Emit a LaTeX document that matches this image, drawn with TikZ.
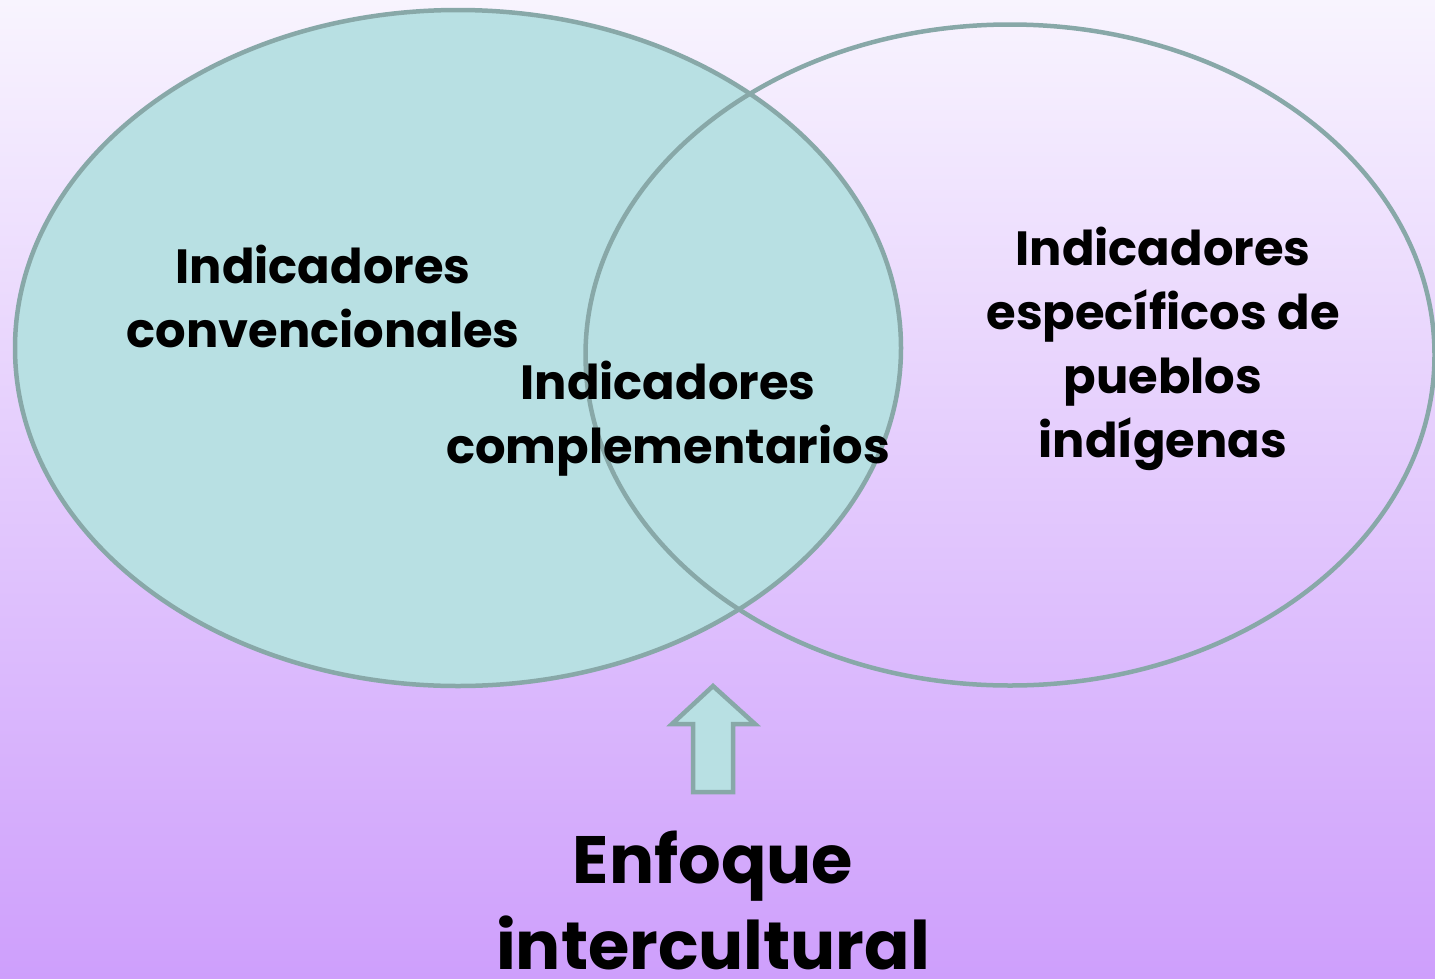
\documentclass[tikz,border=0pt]{standalone}
\usepackage{fontspec}
\setmainfont{Poppins}
\usepackage{tikz}
\usetikzlibrary{shapes.geometric,positioning}

\definecolor{fondoArriba}{HTML}{F8F4FE}
\definecolor{fondoAbajo}{HTML}{CE9FFC}
\definecolor{turquesa}{HTML}{B8E0E3}
\definecolor{borde}{HTML}{88A8A8}

\tikzset{
  conjunto/.style={ellipse, draw=borde, line width=4.5pt, inner sep=0pt},
  rotulo/.style={align=center, font=\fontsize{48}{64}\selectfont\bfseries, inner sep=0pt},
  rotulogrande/.style={align=center, font=\fontsize{67}{86}\selectfont\bfseries, inner sep=0pt}
}

\begin{document}
\begin{tikzpicture}[x=1pt,y=-1pt]
    % fondo degradado
    \shade[top color=fondoArriba, bottom color=fondoAbajo] (0,0) rectangle (1435,978);
    \useasboundingbox (0,0) rectangle (1435,978);
    % conjuntos
    \node[conjunto, fill=turquesa, minimum width=886pt, minimum height=676pt] (izq) at (458,348) {};
    \node[conjunto, minimum width=849pt, minimum height=661pt] (der) at (1010,355) {};
    % textos
    \node[rotulo] (conv) at (323,296) {Indicadores\\convencionales};
    \node[rotulo] (compl) at (668,419) {Indicadores\\complementarios};
    \node[rotulo] (espec) at (1163,349) {Indicadores\\específicos de\\pueblos\\indígenas};
    % flecha
    \draw[borde, fill=turquesa, line width=4.5pt, line join=miter]
        (693,792) -- (693,724) -- (672,724) -- (713,686) -- (755,724) -- (733,724) -- (733,792) -- cycle;
    \node[rotulogrande] (enfoque) at (713,900) {Enfoque\\intercultural};
\end{tikzpicture}
\end{document}
